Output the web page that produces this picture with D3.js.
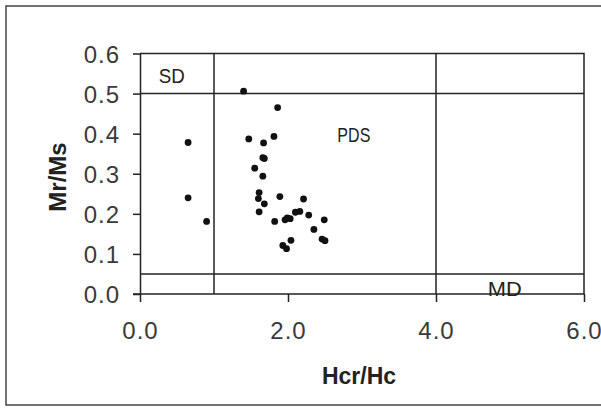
<!DOCTYPE html>
<html lang="en">
<head>
    <meta charset="UTF-8">
    <title>Mr/Ms vs Hcr/Hc</title>
    <script src="https://d3js.org/d3.v7.min.js"></script>
    <style>
        body { margin: 0; background: #fff; }
        svg { display: block; font-family: "Liberation Sans", Arial, sans-serif; }
    </style>
</head>
<body>
<div id="chart"></div>
<script type="text/javascript">

    // data
    var hcrHc = [1.40, 1.86, 0.65, 1.47, 1.67, 1.81, 1.66, 1.68, 1.55, 1.66,
                 0.65, 0.90, 1.61, 1.60, 1.68, 1.61, 1.89, 2.21, 1.82, 1.96,
                 2.03, 1.99, 2.10, 2.16, 2.28, 2.49, 2.35, 2.46, 2.50, 2.04,
                 1.93, 1.98];
    var mrMs  = [0.506, 0.465, 0.378, 0.387, 0.377, 0.393, 0.340, 0.338, 0.314, 0.294,
                 0.240, 0.181, 0.253, 0.238, 0.225, 0.205, 0.243, 0.237, 0.181, 0.185,
                 0.188, 0.190, 0.204, 0.206, 0.197, 0.185, 0.161, 0.137, 0.133, 0.134,
                 0.121, 0.113];

    var xTicks = [0, 2, 4, 6];
    var yTicks = [0, 0.1, 0.2, 0.3, 0.4, 0.5, 0.6];

    // domain boundaries (SD / PDS / MD)
    var hLines = [0.5, 0.05];
    var vLines = [1, 4];
    var zoneNames = ["SD", "PDS", "MD"];
    var zoneX = [0.43, 2.89, 4.93];
    var zoneY = [0.526, 0.379, -0.006];

    var width = 601, height = 408;
    var ink = "#222";

    var svg = d3.select("#chart")
        .append("svg")
        .attr("width", width)
        .attr("height", height);

    // outer chart frame
    svg.append("rect")
        .attr("x", 6).attr("y", 6)
        .attr("width", 600).attr("height", 399)
        .style("fill", "none")
        .style("stroke", "#444")
        .style("stroke-width", 1.5);

    var x = d3.scaleLinear().domain([0, 6]).range([140, 584]);
    var y = d3.scaleLinear().domain([0, 0.6]).range([294, 53.5]);

    // plot border (top and right)
    svg.append("path")
        .attr("d", "M" + x(0) + "," + y(0.6) + "H" + x(6) + "V" + y(0))
        .style("fill", "none")
        .style("stroke", ink)
        .style("stroke-width", 1.5);

    // zone lines
    svg.selectAll(".hline")
        .data(hLines)
        .enter().append("line")
        .attr("class", "hline")
        .attr("x1", x(0)).attr("x2", x(6))
        .attr("y1", function(d) { return y(d); })
        .attr("y2", function(d) { return y(d); })
        .style("stroke", ink).style("stroke-width", 1.5);

    svg.selectAll(".vline")
        .data(vLines)
        .enter().append("line")
        .attr("class", "vline")
        .attr("y1", y(0)).attr("y2", y(0.6))
        .attr("x1", function(d) { return x(d); })
        .attr("x2", function(d) { return x(d); })
        .style("stroke", ink).style("stroke-width", 1.5);

    // axes
    var xAxis = d3.axisBottom(x)
        .tickValues(xTicks)
        .tickSizeInner(8).tickSizeOuter(0)
        .tickPadding(20)
        .tickFormat(d3.format(".1f"));

    var yAxis = d3.axisLeft(y)
        .tickValues(yTicks)
        .tickSizeInner(7).tickSizeOuter(0)
        .tickPadding(13)
        .tickFormat(d3.format(".1f"));

    var gx = svg.append("g")
        .attr("transform", "translate(0," + y(0) + ")")
        .call(xAxis);
    // axis line runs out to the 0.0 tick on the left
    gx.select(".domain").attr("d", "M133,0H" + x(6));

    var gy = svg.append("g")
        .attr("transform", "translate(" + x(0) + ",0)")
        .call(yAxis);

    svg.selectAll(".domain, .tick line")
        .style("stroke", ink)
        .style("stroke-width", 1.5);

    svg.selectAll(".tick text")
        .style("font-family", "'Liberation Sans', Arial, sans-serif")
        .style("font-size", "24px")
        .style("fill", "#3a3a3a")
        .style("letter-spacing", "1px");

    gx.selectAll(".tick text").attr("dy", "0.71em");
    gy.selectAll(".tick text").attr("dy", "0.36em");

    // zone labels
    var zoneWidth = { SD: 26, PDS: 33, MD: 34 };
    svg.selectAll(".zone")
        .data(zoneNames)
        .enter().append("text")
        .attr("class", "zone")
        .attr("x", function(d, i) { return x(zoneX[i]); })
        .attr("y", function(d, i) { return y(zoneY[i]); })
        .attr("text-anchor", "middle")
        .attr("textLength", function(d) { return zoneWidth[d]; })
        .attr("lengthAdjust", "spacingAndGlyphs")
        .style("font-size", "21px")
        .style("fill", "#222")
        .text(function(d) { return d; });

    // points
    svg.selectAll(".pt")
        .data(hcrHc)
        .enter().append("circle")
        .attr("class", "pt")
        .attr("cx", function(d) { return x(d); })
        .attr("cy", function(d, i) { return y(mrMs[i]); })
        .attr("r", 3.4)
        .style("fill", "#111");

    // axis titles
    svg.append("text")
        .attr("x", 359).attr("y", 384)
        .attr("text-anchor", "middle")
        .style("font-size", "23px")
        .style("font-weight", "bold")
        .style("fill", "#222")
        .text("Hcr/Hc");

    svg.append("text")
        .attr("transform", "translate(66,177) rotate(-90)")
        .attr("text-anchor", "middle")
        .style("font-size", "24px")
        .style("font-weight", "bold")
        .style("fill", "#222")
        .text("Mr/Ms");

</script>
</body>
</html>
